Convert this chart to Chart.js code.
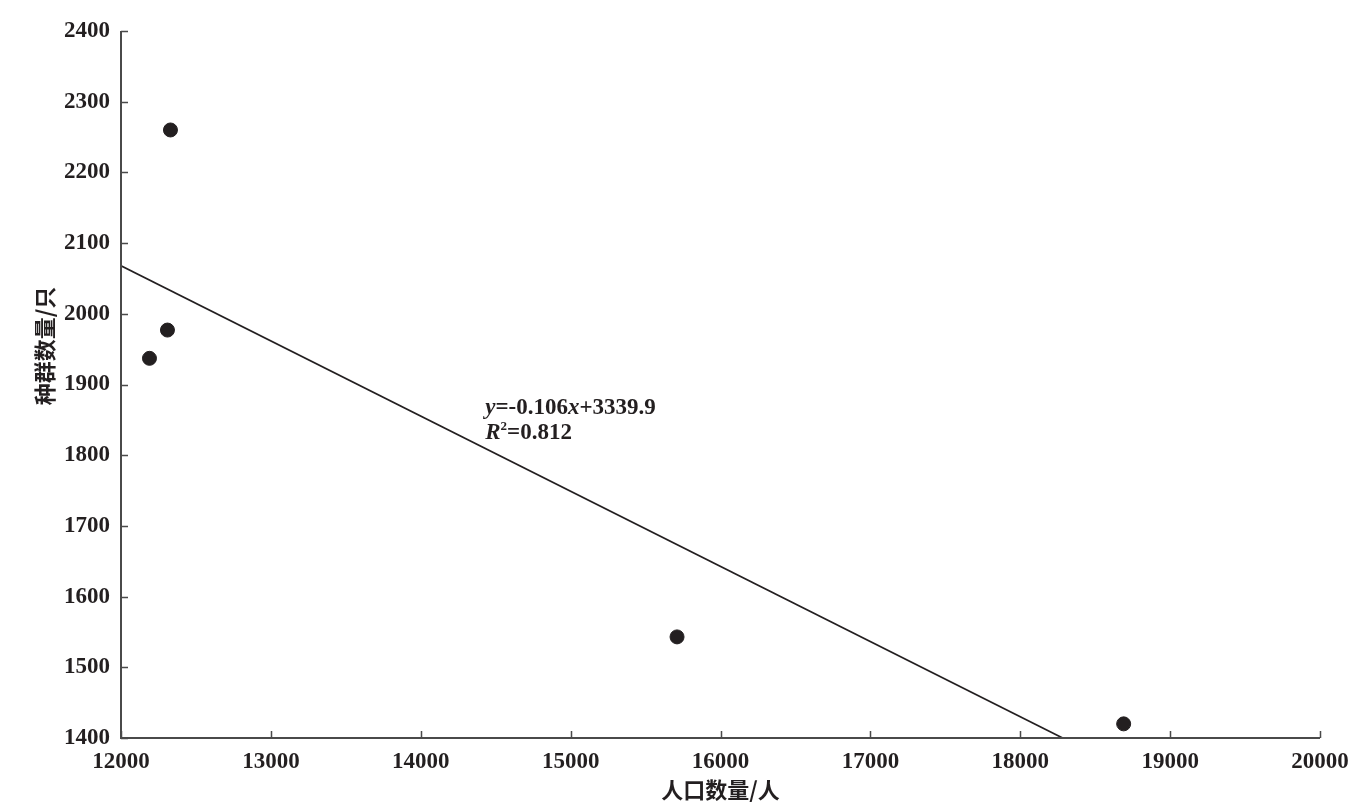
<!DOCTYPE html>
<html>
<head>
<meta charset="utf-8">
<script src="https://cdn.jsdelivr.net/npm/chart.js@4/dist/chart.umd.min.js"></script>
<style>
html,body{margin:0;padding:0;background:#fff;}
#wrap{width:1359px;height:810px;position:relative;}
</style>
</head>
<body>
<div id="wrap"><canvas id="c" width="1359" height="810"></canvas></div>
<script>
// Data
const populationX = [12190, 12310, 12330, 15710, 18690];
const groupSizeY = [1937, 1977, 2260, 1543, 1420];
const trendX = [12000, 18283];
const trendY = [2067.9, 1400];
const xTicks = [12000, 13000, 14000, 15000, 16000, 17000, 18000, 19000, 20000];
const yTicks = [1400, 1500, 1600, 1700, 1800, 1900, 2000, 2100, 2200, 2300, 2400];
const xTitle = '人口数量/人';
const yTitle = '种群数量/只';
const eqLine1 = [['y','i'],['=-0.106',''],['x','i'],['+3339.9','']];
const eqLine2 = [['R','i'],['2','sup'],['=0.812','']];

const INK = '#231f20';
const AXIS = '#4a4a4a';
const SERIF = '"Liberation Serif","DejaVu Serif",serif';
const CJK = '"Noto Sans CJK SC","Noto Sans",sans-serif';

const axesPlugin = {
  id: 'axesPlugin',
  afterDraw(chart) {
    const ctx = chart.ctx;
    const xs = chart.scales.x, ys = chart.scales.y;
    const a = chart.chartArea;
    ctx.save();
    ctx.strokeStyle = AXIS;
    ctx.lineWidth = 2;
    ctx.beginPath();
    ctx.moveTo(a.left, a.top);
    ctx.lineTo(a.left, a.bottom);
    ctx.lineTo(a.right, a.bottom);
    ctx.stroke();
    ctx.lineWidth = 1.5;
    ctx.beginPath();
    yTicks.forEach(v => {
      const p = Math.round(ys.getPixelForValue(v)) + 0.5;
      ctx.moveTo(a.left, p); ctx.lineTo(a.left + 7, p);
    });
    xTicks.forEach(v => {
      const p = Math.round(xs.getPixelForValue(v)) + 0.5;
      ctx.moveTo(p, a.bottom); ctx.lineTo(p, a.bottom - 7);
    });
    ctx.stroke();

    // titles
    ctx.fillStyle = INK;
    ctx.font = 'bold 22px ' + CJK;
    ctx.textAlign = 'center';
    ctx.textBaseline = 'middle';
    ctx.fillText(xTitle, (a.left + a.right) / 2, 790);
    ctx.save();
    ctx.translate(45, 346);
    ctx.rotate(-Math.PI / 2);
    ctx.fillText(yTitle, 0, 0);
    ctx.restore();

    // equation
    const drawRich = (parts, x, y) => {
      ctx.textAlign = 'left';
      ctx.textBaseline = 'middle';
      let cx = x;
      parts.forEach(([t, s]) => {
        if (s === 'sup') {
          ctx.font = 'bold 13px ' + SERIF;
          ctx.fillText(t, cx, y - 7);
        } else {
          ctx.font = (s === 'i' ? 'italic bold 23px ' : 'bold 23px ') + SERIF;
          ctx.fillText(t, cx, y);
        }
        cx += ctx.measureText(t).width;
      });
    };
    const ex = xs.getPixelForValue(14430);
    drawRich(eqLine1, ex, ys.getPixelForValue(1867));
    drawRich(eqLine2, ex, ys.getPixelForValue(1831));
    ctx.restore();
  }
};

new Chart(document.getElementById('c'), {
  type: 'scatter',
  data: {
    datasets: [
      {
        type: 'line',
        data: trendX.map((x, i) => ({x, y: trendY[i]})),
        borderColor: INK,
        borderWidth: 1.7,
        pointRadius: 0,
        fill: false
      },
      {
        data: populationX.map((x, i) => ({x, y: groupSizeY[i]})),
        backgroundColor: INK,
        borderColor: INK,
        pointRadius: 7,
        pointHoverRadius: 7
      }
    ]
  },
  options: {
    responsive: false,
    animation: false,
    events: [],
    layout: { padding: { left: 0, right: 39, top: 31, bottom: 0 } },
    plugins: { legend: { display: false }, tooltip: { enabled: false } },
    scales: {
      x: {
        type: 'linear', min: 12000, max: 20000,
        afterBuildTicks: s => { s.ticks = xTicks.map(v => ({value: v})); },
        afterFit: s => { s.height = 72; },
        grid: { display: false, drawTicks: false },
        border: { display: false },
        ticks: { color: INK, padding: 10, maxRotation: 0, autoSkip: false,
          font: { family: SERIF, size: 23, weight: 'bold' },
          callback: v => String(v) }
      },
      y: {
        type: 'linear', min: 1400, max: 2400,
        afterBuildTicks: s => { s.ticks = yTicks.map(v => ({value: v})); },
        afterFit: s => { s.width = 121; },
        grid: { display: false, drawTicks: false },
        border: { display: false },
        ticks: { color: INK, padding: 11, autoSkip: false,
          font: { family: SERIF, size: 23, weight: 'bold' },
          callback: v => String(v) }
      }
    }
  },
  plugins: [axesPlugin]
});
</script>
</body>
</html>
